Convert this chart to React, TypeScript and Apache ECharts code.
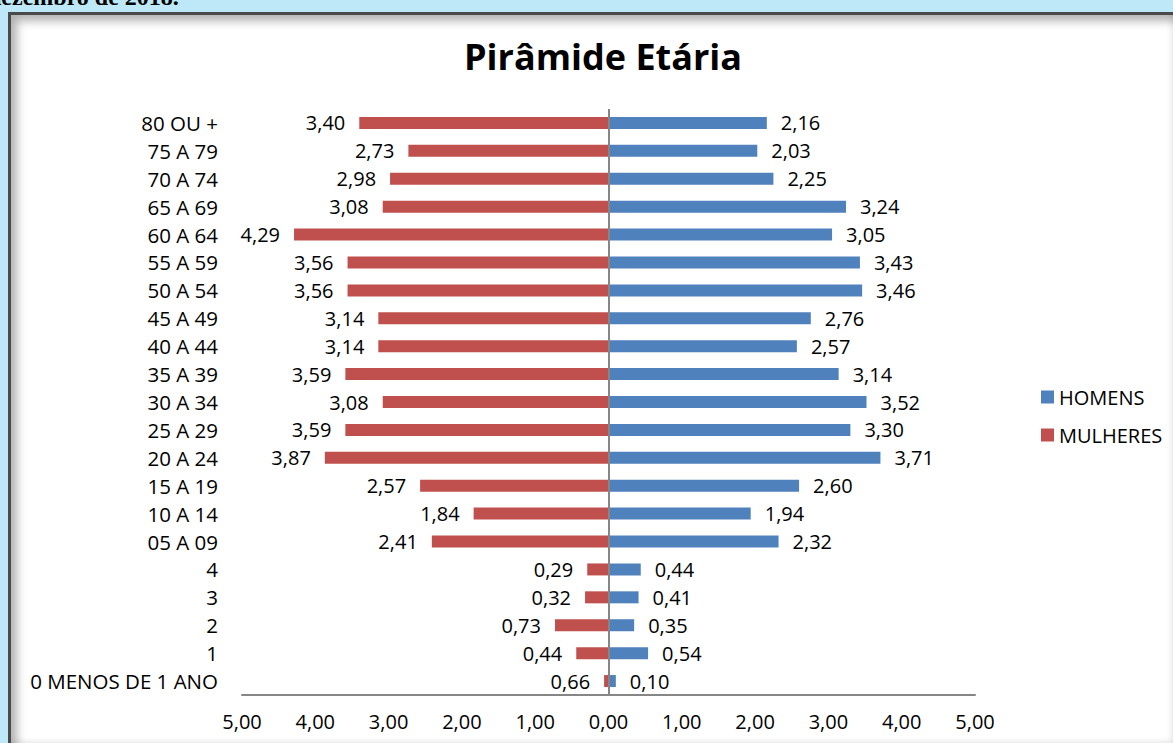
import React, { useEffect, useRef } from "react";
import * as echarts from "echarts";

const categories = [
  "80 OU +", "75 A 79", "70 A 74", "65 A 69", "60 A 64", "55 A 59", "50 A 54",
  "45 A 49", "40 A 44", "35 A 39", "30 A 34", "25 A 29", "20 A 24", "15 A 19",
  "10 A 14", "05 A 09", "4", "3", "2", "1", "0 MENOS DE 1 ANO",
];
// Labels printed next to the women's bars
const womenLabels = [
  3.40, 2.73, 2.98, 3.08, 4.29, 3.56, 3.56, 3.14, 3.14, 3.59, 3.08, 3.59, 3.87,
  2.57, 1.84, 2.41, 0.29, 0.32, 0.73, 0.44, 0.66,
];
// Bar lengths as drawn (the last bar in the source is much shorter than its label)
const womenBars = [
  3.40, 2.73, 2.98, 3.08, 4.29, 3.56, 3.56, 3.14, 3.14, 3.59, 3.08, 3.59, 3.87,
  2.57, 1.84, 2.41, 0.29, 0.32, 0.73, 0.44, 0.06,
];
const menValues = [
  2.16, 2.03, 2.25, 3.24, 3.05, 3.43, 3.46, 2.76, 2.57, 3.14, 3.52, 3.30, 3.71,
  2.60, 1.94, 2.32, 0.44, 0.41, 0.35, 0.54, 0.10,
];
const axisMin = -5;
const axisMax = 5;
const axisStep = 1;

const fmt = (v: number) => Math.abs(v).toFixed(2).replace(".", ",");
const FONT = "'Open Sans', sans-serif";

export default function App() {
  const ref = useRef<HTMLDivElement>(null);
  useEffect(() => {
    if (!ref.current) return;
    const chart = echarts.init(ref.current, undefined, { renderer: "svg" });
    chart.setOption({
      animation: false,
      backgroundColor: "transparent",
      textStyle: { fontFamily: FONT, color: "#000" },
      title: {
        text: "Pirâmide Etária",
        left: 598,
        textAlign: "center",
        top: 33,
        textStyle: { fontFamily: FONT, fontSize: 36, fontWeight: "bold", color: "#000" },
      },
      legend: {
        data: ["HOMENS", "MULHERES"],
        orient: "vertical",
        left: 1036,
        top: 382,
        itemWidth: 13,
        itemHeight: 13,
        itemGap: 18,
        icon: "rect",
        textStyle: { fontFamily: FONT, fontSize: 20, color: "#000" },
      },
      grid: { left: 242, right: 198, top: 109, bottom: 48, containLabel: false },
      xAxis: {
        type: "value",
        min: axisMin,
        max: axisMax,
        interval: axisStep,
        axisLine: { show: true, lineStyle: { color: "#868686", width: 2 } },
        axisTick: { show: false },
        splitLine: { show: false },
        axisLabel: {
          formatter: (v: number) => fmt(v),
          fontFamily: FONT,
          fontSize: 20,
          color: "#000",
          margin: 16,
        },
      },
      yAxis: {
        type: "category",
        data: categories,
        inverse: true,
        axisLine: { show: false, onZero: false },
        axisTick: { show: false },
        axisLabel: { fontFamily: FONT, fontSize: 20.5, color: "#000", margin: 24 },
      },
      series: [
        {
          name: "HOMENS",
          type: "bar",
          data: menValues,
          barWidth: 12,
          barGap: "-100%",
          itemStyle: { color: "#4F81BD" },
          label: {
            show: true,
            position: "right",
            distance: 14,
            formatter: (p: any) => fmt(p.value),
            fontFamily: FONT,
            fontSize: 20,
            color: "#000",
          },
          markLine: {
            silent: true,
            symbol: "none",
            label: { show: false },
            lineStyle: { color: "#868686", width: 2, type: "solid" },
            data: [{ xAxis: 0 }],
          },
        },
        {
          name: "MULHERES",
          type: "bar",
          data: womenBars.map((v) => -v),
          barWidth: 12,
          barGap: "-100%",
          itemStyle: { color: "#C0504D" },
          label: {
            show: true,
            position: "left",
            distance: 14,
            formatter: (p: any) => fmt(womenLabels[p.dataIndex]),
            fontFamily: FONT,
            fontSize: 20,
            color: "#000",
          },
        },
      ],
    });
    return () => chart.dispose();
  }, []);

  return (
    <div
      style={{
        position: "fixed",
        left: 0,
        top: 0,
        width: 1173,
        height: 743,
        background: "#BEE7F7",
        overflow: "hidden",
      }}
    >
      <div
        style={{
          position: "absolute",
          left: -12,
          top: -17,
          fontFamily: "'Liberation Serif', serif",
          fontWeight: "bold",
          fontSize: 24,
          lineHeight: "28px",
          color: "#000",
          whiteSpace: "nowrap",
        }}
      >
        dezembro de 2018.
      </div>
      <div
        style={{
          position: "absolute",
          left: 8,
          top: 12,
          width: 1163,
          height: 729,
          background: "#fff",
          borderLeft: "3px solid #4a4a4a",
          borderTop: "3px solid #4a4a4a",
          boxShadow:
            "inset 10px 10px 10px -4px rgba(0,0,0,0.3), inset -5px -5px 6px -3px rgba(0,0,0,0.12)",
        }}
      />
      <div ref={ref} style={{ position: "absolute", left: 0, top: 0, width: 1173, height: 743 }} />
    </div>
  );
}
